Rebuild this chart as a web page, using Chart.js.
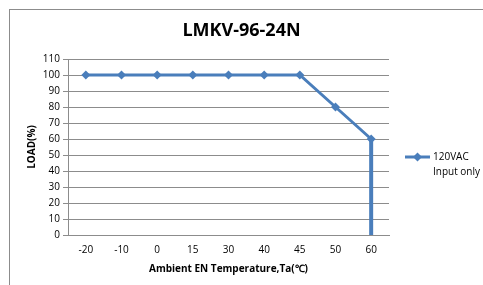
<!DOCTYPE html>
<html>
<head>
<meta charset="utf-8">
<script src="https://cdn.jsdelivr.net/npm/chart.js@4/dist/chart.umd.min.js"></script>
<style>
  html, body { margin: 0; padding: 0; background: #fff; }
  #wrap { width: 483px; height: 285px; position: relative; }
</style>
</head>
<body>
<div id="wrap"><canvas id="c" width="483" height="285"></canvas></div>
<script>
'use strict';

// данные графика
const temps = ['-20', '-10', '0', '15', '30', '40', '45', '50', '60'];
const loads = [100, 100, 100, 100, 100, 100, 100, 80, 60];
// последняя точка: обрыв до нуля на 60
const dropAt = '60';
const dropLoad = 0;
const yTicks = [0, 110, 10]; // min, max, step
const seriesName = ['120VAC', 'Input only'];

const blue = '#4a7ebb';
const font = 'Open Sans';

let points = temps.map((t, i) => ({ x: t, y: loads[i] }));
points.push({ x: dropAt, y: dropLoad });

// рамка и легенда рисуются вручную
const framePlugin = {
    id: 'frame',
    beforeDraw(chart) {
        const ctx = chart.ctx;
        ctx.save();
        ctx.strokeStyle = '#8c8c8c';
        ctx.lineWidth = 1;
        ctx.strokeRect(9.5, 9.5, 600, 400);
        ctx.restore();
    },
    afterDraw(chart) {
        const ctx = chart.ctx;
        ctx.save();
        let y = 157;
        ctx.strokeStyle = blue;
        ctx.lineWidth = 3;
        ctx.beginPath();
        ctx.moveTo(405, y);
        ctx.lineTo(430, y);
        ctx.stroke();
        ctx.fillStyle = blue;
        ctx.beginPath();
        ctx.moveTo(417.5, y - 4.5);
        ctx.lineTo(422, y);
        ctx.lineTo(417.5, y + 4.5);
        ctx.lineTo(413, y);
        ctx.closePath();
        ctx.fill();
        ctx.fillStyle = '#000';
        ctx.font = '10px "' + font + '"';
        ctx.textBaseline = 'middle';
        ctx.fillText(seriesName[0], 433, y);
        ctx.fillText(seriesName[1], 433, y + 15);
        ctx.restore();
    },
};

const lastSeg = points.length - 2;

new Chart(document.getElementById('c').getContext('2d'), {
    type: 'line',
    data: {
        labels: temps,
        datasets: [
            {
                label: seriesName.join(' '),
                data: points,
                borderColor: blue,
                backgroundColor: blue,
                borderWidth: 3,
                pointStyle: 'rectRot',
                pointRadius: points.map((p, i) => (i === points.length - 1 ? 0 : 4.5)),
                pointBorderWidth: 0,
                tension: 0,
                segment: {
                    borderWidth: (c) => (c.p0DataIndex === lastSeg ? 4 : 3),
                },
            },
        ],
    },
    options: {
        responsive: false,
        animation: false,
        layout: { padding: 0 },
        plugins: {
            legend: { display: false },
            tooltip: { enabled: false },
            title: {
                display: true,
                text: 'LMKV-96-24N',
                color: '#000',
                font: { family: font, size: 18, weight: 'bold' },
                padding: { top: 20, bottom: 17.4 },
            },
        },
        scales: {
            x: {
                type: 'category',
                offset: true,
                afterFit: (s) => { s.height = 50; },
                grid: { display: false, drawTicks: false },
                border: { color: '#8c8c8c', width: 1 },
                ticks: { color: '#000', padding: 9, font: { family: font, size: 10 } },
                title: {
                    display: true,
                    text: 'Ambient EN Temperature,Ta(℃)',
                    color: '#000',
                    font: { family: font, size: 10, weight: 'bold' },
                    padding: { top: 0, bottom: 10 },
                },
            },
            y: {
                min: yTicks[0],
                max: yTicks[1],
                afterFit: (s) => { s.width = 68; },
                ticks: {
                    stepSize: yTicks[2],
                    color: '#000',
                    padding: 3,
                    font: { family: font, size: 10 },
                },
                grid: { color: '#8c8c8c', tickLength: 5, lineWidth: 1 },
                border: { color: '#8c8c8c', width: 1 },
                title: {
                    display: true,
                    text: 'LOAD(%)',
                    color: '#000',
                    font: { family: font, size: 10, weight: 'bold' },
                    padding: { top: 26, bottom: 0 },
                },
            },
            // пустая ось справа — место под легенду
            yR: {
                position: 'right',
                min: yTicks[0],
                max: yTicks[1],
                afterFit: (s) => { s.width = 94; },
                ticks: { display: false },
                grid: { display: false, drawTicks: false },
                border: { display: false },
            },
        },
    },
    plugins: [framePlugin],
});
</script>
</body>
</html>
